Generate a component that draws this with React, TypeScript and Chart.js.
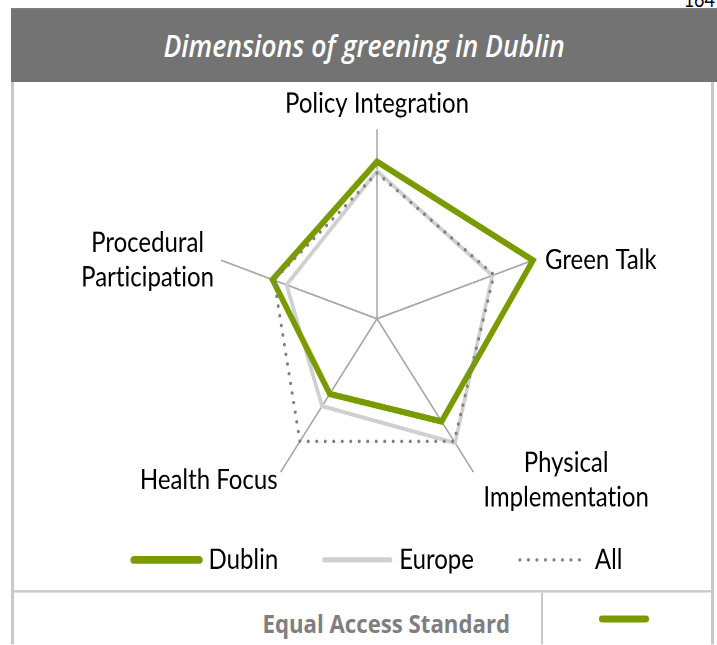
import React, { useEffect, useRef } from 'react';
import { Chart, registerables } from 'chart.js';

Chart.register(...registerables);

// ---- data ----
const categories: string[][] = [
  ['Policy Integration'],
  ['Green Talk'],
  ['Physical', 'Implementation'],
  ['Health Focus'],
  ['Procedural', 'Participation'],
];
const seriesNames = ['Dublin', 'Europe', 'All'];
const dublinValues = [83, 100, 67, 49, 67];
const europeValues = [78, 74, 81, 57, 58];
const allValues = [77, 75, 80, 80, 66];
const scaleMax = 100;
const pageNumber = '164';
const tableRowLabel = 'Equal Access Standard';
const titleText = 'Dimensions of greening in Dublin';

// ---- style / layout ----
const SY = 1.155; // vertical stretch of the original picture
const DESIGN_H = 645 / SY;
const GREEN = '#7a9b00';
const EUROPE_GREY = '#d0d0d0';
const ALL_GREY = '#808080';
const SPOKE = '#a6a6a6';
const BORDER = '#c8c8c8';
const LABEL_FONT = '24px Lato';
const LINE_H = 30;
const LABEL_GAPS = [7, 12, 10, 3, 7];
const CANVAS_TOP = 71;
const CANVAS_W = 717;
const CANVAS_H = 440;
const LEGEND_Y = 413.8;

function setTextCtx(ctx: any) {
  ctx.font = LABEL_FONT;
  try {
    ctx.textRendering = 'optimizeSpeed';
  } catch (e) {}
}

const labelPlugin = {
  id: 'axisLabels',
  afterDatasetsDraw(chart: any) {
    const scale = chart.scales.r;
    const ctx = chart.ctx as CanvasRenderingContext2D;
    ctx.save();
    setTextCtx(ctx);
    ctx.fillStyle = '#000';
    ctx.textAlign = 'center';
    ctx.textBaseline = 'middle';
    categories.forEach((lines, i) => {
      const p = scale.getPointPosition(i, scale.drawingArea);
      const ang = scale.getIndexAngle(i);
      const s = Math.sin(ang);
      const c = Math.cos(ang);
      const w = Math.max(...lines.map((l) => ctx.measureText(l).width));
      const h = lines.length * LINE_H;
      const gap = LABEL_GAPS[i];
      let cx: number;
      let cy: number;
      if (Math.abs(s) < 0.05) {
        cx = p.x;
        cy = c > 0 ? p.y - gap - h / 2 : p.y + gap + h / 2;
      } else {
        cx = s > 0 ? p.x + gap + w / 2 : p.x - gap - w / 2;
        cy = p.y + (c < -0.1 ? 7 : 0);
      }
      lines.forEach((l, k) => ctx.fillText(l, cx, cy - h / 2 + LINE_H * (k + 0.5)));
    });
    ctx.restore();
  },
};

const legendPlugin = {
  id: 'customLegend',
  afterDraw(chart: any) {
    const ctx = chart.ctx as CanvasRenderingContext2D;
    const scale = chart.scales.r;
    const lineLen = 70;
    const textGap = 7;
    const itemGap = 44;
    ctx.save();
    setTextCtx(ctx);
    const dsets = chart.data.datasets;
    const widths = dsets.map((d: any) => lineLen + textGap + ctx.measureText(d.label).width);
    const total = widths.reduce((a: number, b: number) => a + b, 0) + itemGap * (dsets.length - 1);
    let x = scale.xCenter - total / 2;
    dsets.forEach((d: any, i: number) => {
      ctx.save();
      ctx.strokeStyle = d.borderColor;
      ctx.lineWidth = d.legendWidth;
      ctx.lineCap = 'round';
      ctx.setLineDash(d.borderDash || []);
      ctx.beginPath();
      ctx.moveTo(x + 2, LEGEND_Y);
      ctx.lineTo(x + lineLen - 2, LEGEND_Y);
      ctx.stroke();
      ctx.restore();
      ctx.fillStyle = '#000';
      ctx.textAlign = 'left';
      ctx.textBaseline = 'middle';
      ctx.fillText(d.label, x + lineLen + textGap, LEGEND_Y);
      x += widths[i] + itemGap;
    });
    ctx.restore();
  },
};

export default function App() {
  const ref = useRef<HTMLCanvasElement>(null);

  useEffect(() => {
    if (!ref.current) return;
    const chart = new Chart(ref.current, {
      type: 'radar',
      data: {
        labels: categories,
        datasets: [
          {
            label: seriesNames[0],
            data: dublinValues,
            borderColor: GREEN,
            borderWidth: 5.5,
            legendWidth: 6.5,
            borderJoinStyle: 'miter',
            fill: false,
            pointRadius: 0,
            order: 1,
          } as any,
          {
            label: seriesNames[1],
            data: europeValues,
            borderColor: EUROPE_GREY,
            borderWidth: 3.6,
            legendWidth: 4.5,
            borderJoinStyle: 'miter',
            fill: false,
            pointRadius: 0,
            order: 2,
          } as any,
          {
            label: seriesNames[2],
            data: allValues,
            borderColor: ALL_GREY,
            borderWidth: 3,
            legendWidth: 3,
            borderDash: [0, 8.5],
            borderCapStyle: 'round',
            fill: false,
            pointRadius: 0,
            order: 0,
          } as any,
        ],
      },
      options: {
        responsive: false,
        animation: false,
        devicePixelRatio: 2,
        layout: { padding: { left: 213, top: 41, right: CANVAS_W - 213 - 328, bottom: CANVAS_H - 41 - 328 } },
        plugins: { legend: { display: false }, tooltip: { enabled: false } },
        elements: { line: { tension: 0 } },
        scales: {
          r: {
            min: 0,
            max: scaleMax,
            grid: { display: false },
            ticks: { display: false },
            pointLabels: { display: false },
            angleLines: { display: true, color: SPOKE, lineWidth: 1.5 },
          },
        },
      },
      plugins: [labelPlugin, legendPlugin],
    } as any);
    return () => chart.destroy();
  }, []);

  return (
    <div
      style={{
        position: 'absolute',
        left: 0,
        top: 0,
        width: 717,
        height: DESIGN_H,
        transform: `scaleY(${SY})`,
        transformOrigin: '0 0',
        overflow: 'hidden',
        background: '#fff',
      }}
    >
      <div
        style={{
          position: 'absolute',
          right: 2,
          top: -10,
          fontFamily: 'Lato',
          fontSize: 18,
          lineHeight: 1,
          color: '#000',
        }}
      >
        {pageNumber}
      </div>
      <div
        style={{
          position: 'absolute',
          left: 11,
          top: 8 / SY,
          width: 706,
          height: 71 - 8 / SY,
          background: '#737373',
          display: 'flex',
          alignItems: 'center',
          justifyContent: 'center',
          color: '#fff',
          fontFamily: '"Open Sans"',
          fontStyle: 'italic',
          fontWeight: 600,
          fontSize: 26.6,
          whiteSpace: 'nowrap',
        }}
      >
        {titleText}
      </div>
      <div style={{ position: 'absolute', left: 11, top: 71, width: 3, height: DESIGN_H - 71, background: BORDER }} />
      <div style={{ position: 'absolute', left: 711, top: 71, width: 3, height: DESIGN_H - 71, background: BORDER }} />
      <canvas
        ref={ref}
        width={CANVAS_W}
        height={CANVAS_H}
        style={{ position: 'absolute', left: 0, top: CANVAS_TOP, width: CANVAS_W, height: CANVAS_H }}
      />
      <div style={{ position: 'absolute', left: 14, top: 590 / SY, width: 697, height: 2 / SY, background: BORDER }} />
      <div style={{ position: 'absolute', left: 541, top: 592 / SY, width: 2, height: DESIGN_H - 592 / SY, background: BORDER }} />
      <div
        style={{
          position: 'absolute',
          right: 717 - 510,
          top: 525,
          height: 30,
          lineHeight: '30px',
          fontFamily: '"Open Sans"',
          fontWeight: 700,
          fontSize: 22.2,
          color: '#7f7f7f',
          whiteSpace: 'nowrap',
        }}
      >
        {tableRowLabel}
      </div>
      <div
        style={{
          position: 'absolute',
          left: 599,
          top: 616 / SY,
          width: 50,
          height: 6 / SY,
          borderRadius: 3,
          background: GREEN,
        }}
      />
    </div>
  );
}
